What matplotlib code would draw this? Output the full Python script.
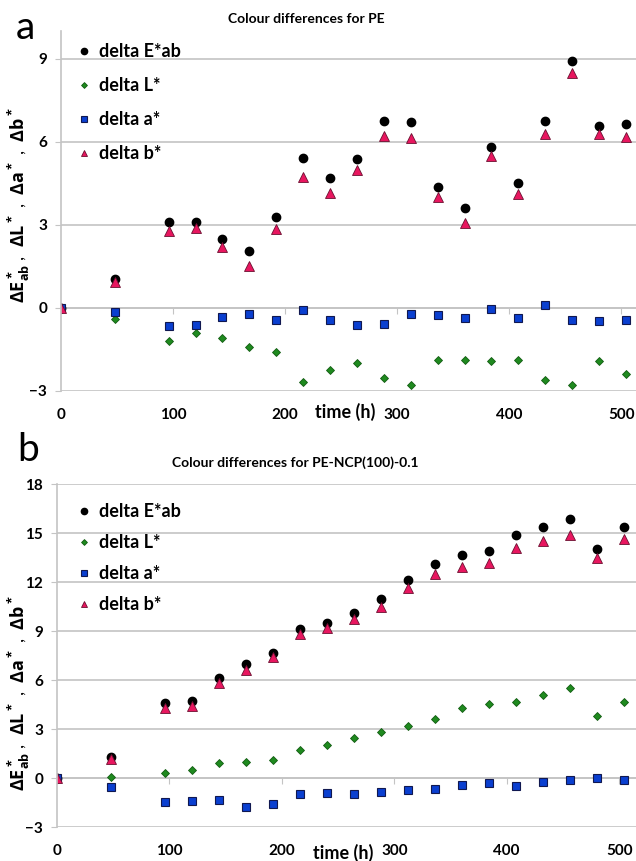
import matplotlib
matplotlib.use("Agg")
import matplotlib.pyplot as plt

plt.rcParams['font.family'] = ['Lato', 'DejaVu Sans']
plt.rcParams['mathtext.fontset'] = 'custom'
plt.rcParams['mathtext.rm'] = 'Open Sans:bold'
plt.rcParams['mathtext.it'] = 'Open Sans:bold'
plt.rcParams['mathtext.bf'] = 'Open Sans:bold'
plt.rcParams['mathtext.default'] = 'bf'

# time points (h)
time_h = [0, 48, 96, 120, 144, 168, 192, 216, 240, 264, 288, 312, 336, 360, 384, 408, 432, 456, 480, 504]

# panel a: PE
pe_dE = [0, 1.05, 3.12, 3.10, 2.49, 2.07, 3.28, 5.43, 4.71, 5.37, 6.76, 6.72, 4.38, 3.61, 5.83, 4.50, 6.77, 8.93, 6.58, 6.65]
pe_dL = [0, -0.41, -1.19, -0.89, -1.08, -1.40, -1.59, -2.66, -2.23, -1.98, -2.54, -2.78, -1.87, -1.88, -1.92, -1.87, -2.59, -2.78, -1.92, -2.37]
pe_da = [0, -0.13, -0.65, -0.63, -0.34, -0.20, -0.45, -0.07, -0.42, -0.60, -0.58, -0.21, -0.25, -0.36, -0.04, -0.35, 0.11, -0.45, -0.48, -0.43]
pe_db = [0, 0.93, 2.79, 2.90, 2.22, 1.53, 2.84, 4.75, 4.15, 4.99, 6.22, 6.16, 4.00, 3.08, 5.50, 4.11, 6.28, 8.48, 6.28, 6.19]

# panel b: PE-NCP(100)-0.1
ncp_dE = [0, 1.32, 4.62, 4.73, 6.12, 6.99, 7.68, 9.11, 9.52, 10.13, 10.97, 12.13, 13.09, 13.66, 13.90, 14.86, 15.39, 15.86, 14.00, 15.35]
ncp_dL = [0, 0.08, 0.32, 0.51, 0.94, 1.02, 1.10, 1.75, 2.02, 2.48, 2.81, 3.22, 3.65, 4.30, 4.52, 4.67, 5.11, 5.54, 3.79, 4.67]
ncp_da = [0, -0.51, -1.43, -1.39, -1.33, -1.77, -1.57, -0.98, -0.88, -0.96, -0.86, -0.72, -0.65, -0.41, -0.31, -0.45, -0.24, -0.12, 0.0, -0.12]
ncp_db = [0, 1.18, 4.32, 4.42, 5.81, 6.62, 7.40, 8.81, 9.21, 9.74, 10.50, 11.66, 12.51, 12.92, 13.19, 14.07, 14.50, 14.90, 13.49, 14.65]

labels = ["delta E*ab", "delta L*", "delta a*", "delta b*"]
x_ticks = [0, 100, 200, 300, 400, 500]

GRID = '#c4c4c4'
W, H = 636, 861
fig = plt.figure(figsize=(W / 100, H / 100), dpi=100)

ylabel = r'$\Delta E^*_{ab}$ ,  $\Delta L^*$ ,  $\Delta a^*$ ,  $\Delta b^*$'


def panel(box, series, ylim, yticks, xmax, title, title_xy, letter, letter_xy, leg_top, leg_space, ylab_y):
    left, top, right, bottom = box
    ax = fig.add_axes([left / W, 1 - bottom / H, (right - left) / W, (bottom - top) / H])
    dE, dL, da, db = series
    ax.plot(time_h, dE, 'o', ms=6, color='black', mec='black', label=labels[0])
    ax.plot(time_h, dL, 'D', ms=4, color='#1f8a1f', mec='#125c12', mew=0.6, label=labels[1])
    ax.plot(time_h, da, 's', ms=6.2, color='#0a3fd0', mec='#101850', mew=0.8, label=labels[2])
    ax.plot(time_h, db, '^', ms=6.5, color='#e8165f', mec='#6a1030', mew=0.6, label=labels[3])

    ax.set_xlim(0, xmax)
    ax.set_ylim(*ylim)
    ax.set_yticks(yticks)
    ax.set_xticks(x_ticks)
    ax.yaxis.grid(True, color=GRID, lw=1.2)
    ax.set_axisbelow(True)
    for s in ['top', 'right', 'bottom']:
        ax.spines[s].set_visible(False)
    ax.spines['left'].set_color(GRID)
    ax.spines['left'].set_linewidth(1.2)
    ax.tick_params(axis='y', length=4, color=GRID, labelsize=11, pad=6)
    ax.tick_params(axis='x', length=0, labelsize=11, pad=12)
    for t in ax.get_xticklabels() + ax.get_yticklabels():
        t.set_fontweight('bold')

    # category axis crossing at zero with small tick marks
    zero = (0 - ylim[0]) / (ylim[1] - ylim[0])
    sec = ax.secondary_xaxis(zero)
    sec.set_xticks(x_ticks)
    sec.tick_params(length=4, color=GRID, labelbottom=False)
    sec.spines['bottom'].set_color(GRID)
    sec.spines['bottom'].set_linewidth(1.2)

    ax.set_xlabel('time (h)', fontsize=13, fontweight='bold', va='center')
    ax.xaxis.set_label_coords(0.495, -0.058 if ylim[1] < 12 else -0.075)

    fig.text(19 / W, 1 - ylab_y / H, ylabel, rotation=90, fontsize=13, ha='center', va='center')
    fig.text(title_xy[0] / W, 1 - title_xy[1] / H, title, fontsize=10, fontweight='bold',
             ha='center', va='center')
    fig.text(letter_xy[0] / W, 1 - letter_xy[1] / H, letter, fontsize=28, ha='center', va='center')

    ax.legend(loc='upper left', bbox_to_anchor=(70 / W, 1 - leg_top / H),
              bbox_transform=fig.transFigure, frameon=False, handlelength=0.6,
              handletextpad=0.5, labelspacing=leg_space, markerscale=0.75,
              borderpad=0, prop={'size': 13, 'weight': 'bold'})
    return ax


panel((61, 31.3, 636, 391), (pe_dE, pe_dL, pe_da, pe_db), (-3, 10), [-3, 0, 3, 6, 9], 513,
      'Colour differences for PE', (306, 19), 'a', (25, 28), 34, 0.95, 205)
panel((57, 484, 636, 827.3), (ncp_dE, ncp_dL, ncp_da, ncp_db), (-3, 18), [-3, 0, 3, 6, 9, 12, 15, 18], 515,
      'Colour differences for PE-NCP(100)-0.1', (295, 463), 'b', (28, 450), 494, 0.78, 693)

fig.savefig('out.png', dpi=100)
